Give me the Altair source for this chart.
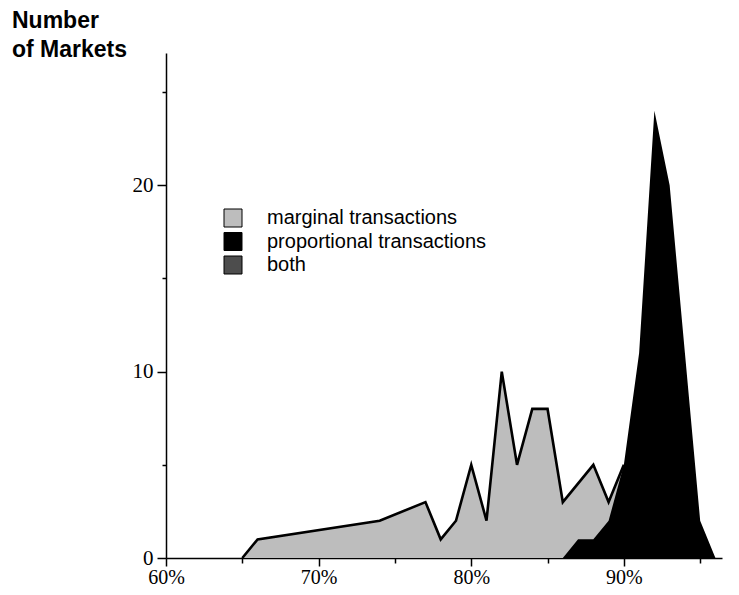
import altair as alt
import pandas as pd

# ---- data ----
MARGINAL_PCT = [65, 66, 74, 77, 78, 79, 80, 81, 82, 83, 84, 85, 86, 88, 89, 90]
MARGINAL_COUNT = [0, 1, 2, 3, 1, 2, 5, 2, 10, 5, 8, 8, 3, 5, 3, 5]

PROP_PCT = [86, 87, 88, 89, 90, 91, 92, 93, 94, 95, 96]
PROP_COUNT = [0, 1, 1, 2, 5, 11, 24, 20, 11, 2, 0]

SERIES = ["marginal transactions", "proportional transactions", "both"]
COLORS = ["#bdbdbd", "#000000", "#4d4d4d"]

X_TICKS = [60, 65, 70, 75, 80, 85, 90, 95]
Y_TICKS = [0, 5, 10, 15, 20, 25]
TITLE_LINES = ["Number", "of Markets"]

marg = pd.DataFrame({"pct": MARGINAL_PCT, "count": MARGINAL_COUNT, "series": SERIES[0]})
prop = pd.DataFrame({"pct": PROP_PCT, "count": PROP_COUNT, "series": SERIES[1]})

xscale = alt.Scale(domain=[60, 96.43], nice=False, zero=False)
yscale = alt.Scale(domain=[0, 27.1], nice=False)

xaxis = alt.Axis(
    values=X_TICKS,
    labelExpr="datum.value % 10 == 0 ? datum.value + '%' : ''",
    title=None,
    grid=False,
    labelFlush=False,
    labelOverlap=False,
    labelFont="Liberation Serif",
    labelFontSize=20,
    labelColor="black",
    labelPadding=1,
    tickColor="black",
    tickWidth=1.5,
    tickSize={"condition": {"test": "datum.value % 10 == 0", "value": 8}, "value": 5},
    domainColor="black",
    domainWidth=1.5,
)
yaxis = alt.Axis(
    values=Y_TICKS,
    labelExpr="datum.value % 10 == 0 ? datum.label : ''",
    title=None,
    grid=False,
    labelOverlap=False,
    labelFont="Liberation Serif",
    labelFontSize=21,
    labelColor="black",
    labelPadding=4,
    tickColor="black",
    tickWidth=1.5,
    tickSize={"condition": {"test": "datum.value % 10 == 0", "value": 9}, "value": 4},
    domainColor="black",
    domainWidth=1.5,
)

color = alt.Color(
    "series:N",
    scale=alt.Scale(domain=SERIES, range=COLORS),
    legend=alt.Legend(
        title=None,
        orient="none",
        legendX=57,
        legendY=155,
        symbolType="square",
        symbolSize=324,
        symbolStrokeColor="black",
        symbolStrokeWidth=1,
        symbolOpacity=1,
        labelFont="Liberation Sans",
        labelFontSize=20,
        labelColor="black",
        labelOffset=24,
        labelLimit=0,
        rowPadding=1.5,
        padding=0,
    ),
)

marg_area = alt.Chart(marg).mark_area(opacity=1, strokeWidth=0).encode(
    x=alt.X("pct:Q", scale=xscale, axis=xaxis),
    y=alt.Y("count:Q", scale=yscale, axis=yaxis, stack=None),
    color=color,
)
marg_line = alt.Chart(marg).mark_line(color="black", strokeWidth=2.6, strokeJoin="miter").encode(
    x=alt.X("pct:Q", scale=xscale),
    y=alt.Y("count:Q", scale=yscale),
)
prop_area = alt.Chart(prop).mark_area(opacity=1, strokeWidth=0).encode(
    x=alt.X("pct:Q", scale=xscale),
    y=alt.Y("count:Q", scale=yscale, stack=None),
    color=color,
)
title = alt.Chart(pd.DataFrame({"t": [0]})).mark_text(
    text=TITLE_LINES,
    align="left",
    baseline="alphabetic",
    font="Liberation Sans",
    fontWeight="bold",
    fontSize=23,
    lineHeight=29,
    color="black",
).encode(x=alt.value(-154), y=alt.value(-25))

chart = alt.layer(marg_area, marg_line, prop_area, title).properties(
    width=556,
    height=505,
    autosize=alt.AutoSizeParams(type="none"),
    padding={"left": 158, "top": 45, "right": 2, "bottom": 28},
    background="white",
).configure_view(stroke=None)

chart.save("out.html", embed_options={"renderer": "svg", "actions": False})
